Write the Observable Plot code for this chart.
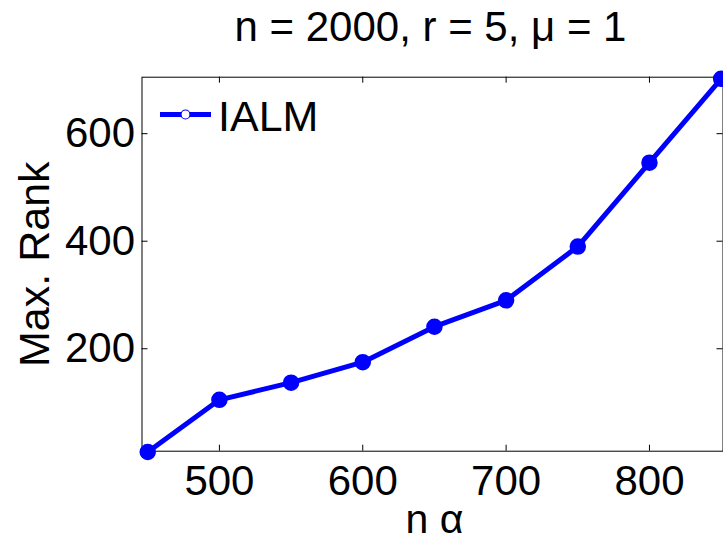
<!DOCTYPE html>
<html>
<head>
<meta charset="utf-8">
<script src="https://cdn.jsdelivr.net/npm/d3@7"></script>
<script src="https://cdn.jsdelivr.net/npm/@observablehq/plot@0.6"></script>
<style>
  html, body { margin: 0; padding: 0; background: #fff; }
  svg { display: block; }
</style>
</head>
<body>
<div id="chart"></div>
<script>
const nAlpha = [450, 500, 550, 600, 650, 700, 750, 800, 850];
const maxRank = [8, 105, 137, 175, 241, 290, 390, 546, 702];
const xTicks = [500, 600, 700, 800];
const yTicks = [200, 400, 600];
const seriesName = "IALM";
const titleText = "n = 2000, r = 5, \u03bc = 1";
const xLabel = "n \u03b1";
const yLabel = "Max. Rank";

const data = nAlpha.map((x, i) => ({x, y: maxRank[i]}));

const W = 723, H = 541;
const mL = 141.5, mR = 0.5, mT = 76.7, mB = 90.3;
const innerH = H - mT - mB;
const innerW = W - mL - mR;
const tickLen = 6;
const blue = "#0000ff";
const font = "'Liberation Sans', Arial, Helvetica, sans-serif";

const legend = () => {
  const g = d3.create("svg:g");
  g.append("line").attr("x1", 160).attr("x2", 211).attr("y1", 114.5).attr("y2", 114.5)
    .attr("stroke", blue).attr("stroke-width", 5);
  g.append("circle").attr("cx", 185.5).attr("cy", 114.5).attr("r", 4.5)
    .attr("fill", "white").attr("stroke", blue).attr("stroke-width", 1.2);
  g.append("text").attr("x", 218).attr("y", 131).attr("font-size", 43)
    .attr("text-anchor", "start")
    .attr("font-family", font).attr("fill", "black").text(seriesName);
  return g.node();
};

const chart = Plot.plot({
  width: W,
  height: H,
  marginLeft: mL,
  marginRight: mR,
  marginTop: mT,
  marginBottom: mB,
  style: {fontFamily: font, fontSize: "42px", background: "white", overflow: "visible"},
  x: {domain: [446, 851.3], ticks: xTicks, label: null},
  y: {domain: [9.5, 705], ticks: yTicks, label: null},
  marks: [
    Plot.frame({stroke: "black", strokeWidth: 1}),
    Plot.tickX(xTicks, {x: d => d, insetTop: innerH - tickLen, stroke: "black", strokeWidth: 1}),
    Plot.tickX(xTicks, {x: d => d, insetBottom: innerH - tickLen, stroke: "black", strokeWidth: 1}),
    Plot.tickY(yTicks, {y: d => d, insetRight: innerW - tickLen, stroke: "black", strokeWidth: 1}),
    Plot.tickY(yTicks, {y: d => d, insetLeft: innerW - tickLen, stroke: "black", strokeWidth: 1}),
    Plot.axisX({ticks: xTicks, tickSize: 0, tickPadding: 14, fontSize: 42, label: null, tickFormat: d => String(d)}),
    Plot.axisY({ticks: yTicks, tickSize: 0, tickPadding: 7, fontSize: 42, label: null, tickFormat: d => String(d)}),
    Plot.line(data, {x: "x", y: "y", stroke: blue, strokeWidth: 5}),
    Plot.dot(data, {x: "x", y: "y", r: 7.5, fill: blue, stroke: blue}),
    Plot.text([titleText], {frameAnchor: "top", lineAnchor: "middle", textAnchor: "middle", dx: -2, dy: -50, fontSize: 42, fill: "black"}),
    Plot.text([xLabel], {frameAnchor: "bottom", lineAnchor: "middle", textAnchor: "middle", dx: 2, dy: 69, fontSize: 41, fill: "black"}),
    Plot.text([yLabel], {frameAnchor: "left", lineAnchor: "middle", textAnchor: "middle", dx: -107, dy: 0, rotate: -90, fontSize: 43, fill: "black"}),
    legend
  ]
});

document.getElementById("chart").appendChild(chart);
</script>
</body>
</html>
